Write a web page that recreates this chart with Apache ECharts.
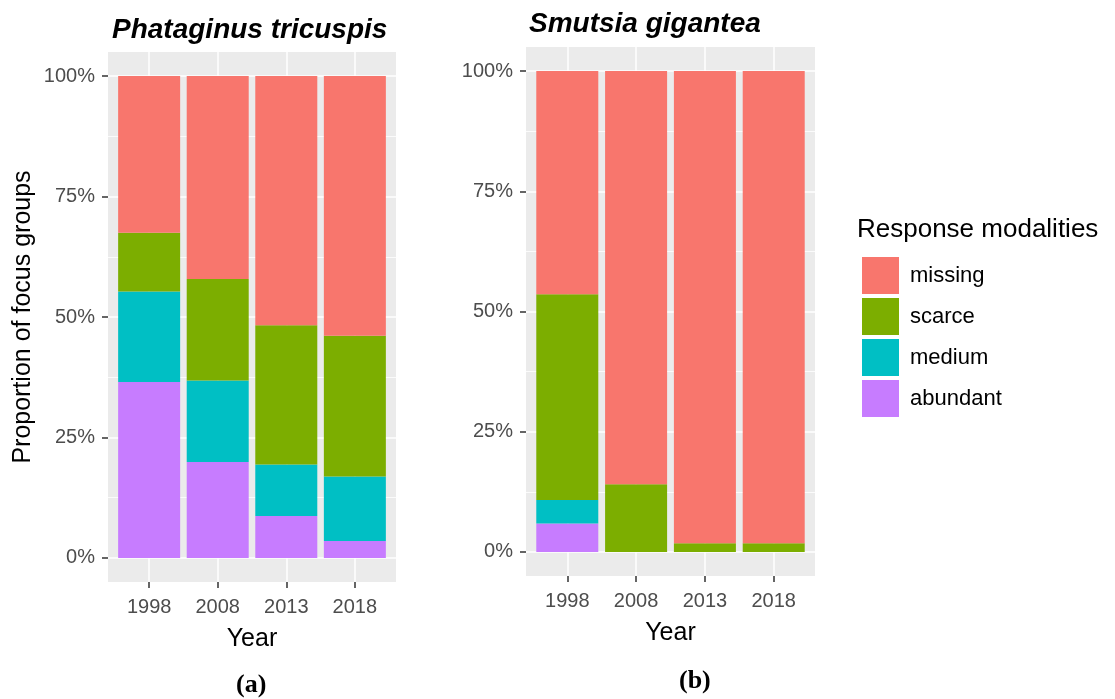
<!DOCTYPE html>
<html>
<head>
<meta charset="utf-8">
<script src="https://cdn.jsdelivr.net/npm/echarts@6/dist/echarts.min.js"></script>
<style>
  html, body { margin: 0; padding: 0; background: #fff; }
  #main { width: 1115px; height: 699px; }
</style>
</head>
<body>
<div id="main"></div>
<script>
// 数据
var years = ['1998', '2008', '2013', '2018'];
var modalities = ['missing', 'scarce', 'medium', 'abundant'];
var yTicks = [0, 0.25, 0.5, 0.75, 1];
var yMinor = [0.125, 0.375, 0.625, 0.875];

// Phataginus tricuspis
var leftAbundant = [0.365, 0.199, 0.087, 0.035];
var leftMedium   = [0.188, 0.169, 0.107, 0.134];
var leftScarce   = [0.122, 0.211, 0.289, 0.292];
var leftMissing  = [0.325, 0.421, 0.517, 0.539];

// Smutsia gigantea
var rightAbundant = [0.059, 0, 0, 0];
var rightMedium   = [0.049, 0, 0, 0];
var rightScarce   = [0.428, 0.141, 0.018, 0.018];
var rightMissing  = [0.464, 0.859, 0.982, 0.982];

var colors = {
  missing: '#F8766D',
  scarce: '#7CAE00',
  medium: '#00BFC4',
  abundant: '#C77CFF'
};

var chart = echarts.init(document.getElementById('main'));

// 第一维是数值（用于堆叠），第二维是年份序号
function pairs(arr) {
  return arr.map(function (v, i) { return [v, i]; });
}

function xAxisFor(gridIndex) {
  return {
    type: 'value',
    gridIndex: gridIndex,
    min: -0.6,
    max: 3.6,
    name: 'Year',
    nameLocation: 'middle',
    nameGap: 45,
    nameTextStyle: { color: '#000', fontSize: 25, fontFamily: 'Liberation Sans' },
    axisLine: { show: false, onZero: false },
    axisTick: { show: true, length: 6, customValues: [0, 1, 2, 3], lineStyle: { color: '#333', width: 1.5 } },
    axisLabel: {
      customValues: [0, 1, 2, 3],
      margin: 15,
      color: '#4D4D4D',
      fontSize: 20,
      fontFamily: 'Liberation Sans',
      formatter: function (v) { return years[Math.round(v)]; }
    },
    splitLine: { show: true, lineStyle: { color: '#fff', width: 1.5 } }
  };
}

function yAxisFor(gridIndex, withName) {
  return {
    type: 'value',
    gridIndex: gridIndex,
    min: -0.05,
    max: 1.05,
    name: withName ? 'Proportion of focus groups' : '',
    nameLocation: 'middle',
    nameRotate: 90,
    nameGap: 72,
    nameTextStyle: { color: '#000', fontSize: 25, fontFamily: 'Liberation Sans' },
    axisLine: { show: false, onZero: false },
    axisTick: { show: true, length: 6, customValues: yTicks, lineStyle: { color: '#333', width: 1.5 } },
    axisLabel: {
      customValues: yTicks,
      margin: 13,
      color: '#4D4D4D',
      fontSize: 20,
      fontFamily: 'Liberation Sans',
      formatter: function (v) { return Math.round(v * 100) + '%'; }
    },
    splitLine: { show: true, lineStyle: { color: '#fff', width: 1.5 } }
  };
}

// 次网格线
function yMinorFor(gridIndex) {
  return {
    type: 'value',
    gridIndex: gridIndex,
    min: -0.05,
    max: 1.05,
    position: 'right',
    axisLine: { show: false, onZero: false },
    axisTick: { show: false, customValues: yMinor },
    axisLabel: { show: false, customValues: yMinor },
    splitLine: { show: true, lineStyle: { color: '#fff', width: 0.8 } }
  };
}

function barSeries(name, data, xi, yi) {
  return {
    name: name,
    type: 'bar',
    stack: 'panel' + xi,
    xAxisIndex: xi,
    yAxisIndex: yi,
    barWidth: 62,
    encode: { x: 1, y: 0 },
    data: pairs(data),
    itemStyle: { color: colors[name] },
    emphasis: { disabled: true }
  };
}

var option = {
  animation: false,
  backgroundColor: '#fff',
  title: [{
    text: 'Phataginus tricuspis',
    left: 107,
    top: 11,
    textStyle: { fontSize: 28, fontWeight: 'bold', fontStyle: 'italic', color: '#000', fontFamily: 'Liberation Sans' }
  }, {
    text: 'Smutsia gigantea',
    left: 524,
    top: 5,
    textStyle: { fontSize: 28, fontWeight: 'bold', fontStyle: 'italic', color: '#000', fontFamily: 'Liberation Sans' }
  }, {
    text: 'Response modalities',
    left: 852,
    top: 212,
    textStyle: { fontSize: 26, fontWeight: 'normal', color: '#000', fontFamily: 'Liberation Sans' }
  }],
  legend: {
    data: modalities,
    orient: 'vertical',
    left: 857,
    top: 252,
    icon: 'rect',
    itemWidth: 37,
    itemHeight: 37,
    itemGap: 4,
    textStyle: { fontSize: 22, color: '#000', fontFamily: 'Liberation Sans', padding: [0, 0, 0, 6] },
    selectedMode: false
  },
  grid: [{
    left: 108, top: 52, width: 288, height: 530,
    show: true, backgroundColor: '#EBEBEB', borderWidth: 0
  }, {
    left: 526, top: 47, width: 289, height: 529,
    show: true, backgroundColor: '#EBEBEB', borderWidth: 0
  }],
  xAxis: [xAxisFor(0), xAxisFor(1)],
  yAxis: [yAxisFor(0, true), yAxisFor(1, false), yMinorFor(0), yMinorFor(1)],
  graphic: [{
    type: 'text',
    left: 236,
    top: 672,
    style: { text: '(a)', fontSize: 26, fontWeight: 'bold', fontFamily: 'Liberation Serif', fill: '#000' }
  }, {
    type: 'text',
    left: 679,
    top: 668,
    style: { text: '(b)', fontSize: 26, fontWeight: 'bold', fontFamily: 'Liberation Serif', fill: '#000' }
  }],
  series: [
    barSeries('abundant', leftAbundant, 0, 0),
    barSeries('medium', leftMedium, 0, 0),
    barSeries('scarce', leftScarce, 0, 0),
    barSeries('missing', leftMissing, 0, 0),
    barSeries('abundant', rightAbundant, 1, 1),
    barSeries('medium', rightMedium, 1, 1),
    barSeries('scarce', rightScarce, 1, 1),
    barSeries('missing', rightMissing, 1, 1)
  ]
};

chart.setOption(option);
</script>
</body>
</html>
